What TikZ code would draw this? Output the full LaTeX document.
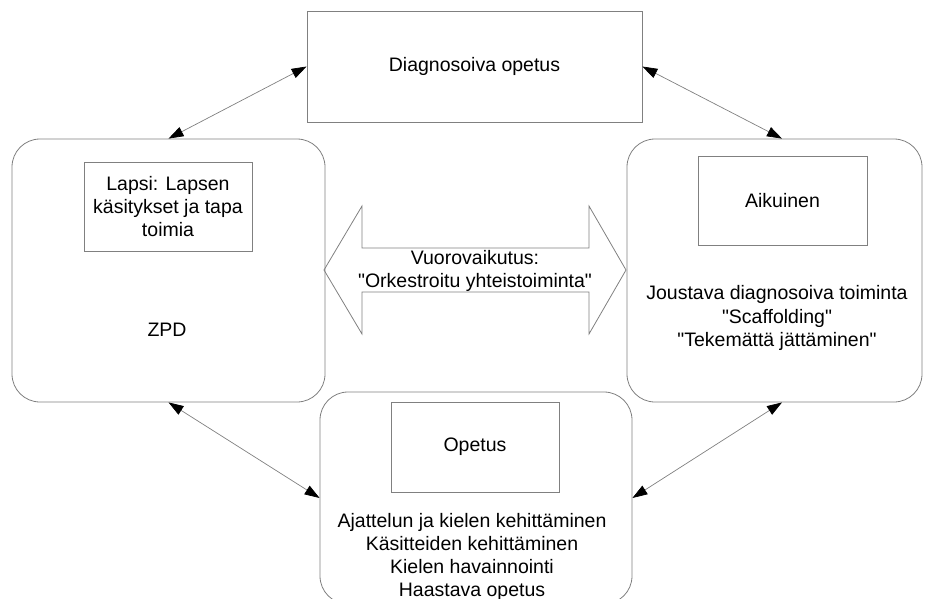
\documentclass[tikz,border=0pt]{standalone}
\usepackage{fontspec}
\setmainfont{Liberation Sans}[Ligatures=TeXOff]
\usetikzlibrary{arrows.meta}
\definecolor{edge}{RGB}{128,128,128}
\begin{document}
\begin{tikzpicture}[x=1pt,y=-1pt,
  every node/.style={font=\fontsize{19.5}{23.2}\selectfont, align=center, inner sep=0pt},
  frame/.style={draw=edge, line width=0.8pt},
  panel/.style={frame, rounded corners=28pt},
  link/.style={draw=edge, line width=0.7pt, {Triangle[length=15pt,width=10pt,color=black]}-{Triangle[length=15pt,width=10pt,color=black]}},
]
\clip (0,0) rectangle (927,598);

% top box
\node[frame, minimum width=335pt, minimum height=111pt] (diag) at (474.5,66.5) {Diagnosoiva opetus};

% three rounded panels
\node[panel, minimum width=313pt, minimum height=263pt] (lapsi) at (168.5,270.5) {};
\node[panel, minimum width=295pt, minimum height=263pt] (aik) at (774.5,270.5) {};
\node[panel, minimum width=312pt, minimum height=212pt] (opet) at (476,498) {};

% inner boxes
\node[frame, minimum width=168pt, minimum height=89pt] (lapsibox) at (168,206.5) {Lapsi: Lapsen\\käsitykset ja tapa\\toimia};
\node[frame, minimum width=169pt, minimum height=89pt] (aikbox) at (782.5,200.5) {Aikuinen};
\node[frame, minimum width=168pt, minimum height=90pt] (opetbox) at (475,447) {Opetus};

% panel texts
\node (zpd) at (167,330) {ZPD};
\node (aiktxt) at (777,318) {Joustava diagnosoiva toiminta\\"Scaffolding"\\"Tekemättä jättäminen"};
\node (opettxt) at (472,557) {Ajattelun ja kielen kehittäminen\\Käsitteiden kehittäminen\\Kielen havainnointi\\Haastava opetus};

% double-headed block arrow between the side panels
\coordinate (dl) at (324,270);
\coordinate (dr) at (626,270);
\draw[frame] (dl) -- (362,206) -- (362,248) -- (589,248) -- (589,206) -- (dr)
  -- (589,334) -- (589,292) -- (362,292) -- (362,334) -- cycle;
\node (vuoro) at (475,271) {Vuorovaikutus:\\"Orkestroitu yhteistoiminta"};

% connectors
\draw[link] (diag.west) -- (lapsi.north);
\draw[link] (diag.east) -- ([xshift=7.5pt]aik.north);
\draw[link] (lapsi.south) -- (opet.west);
\draw[link] ([xshift=7.5pt]aik.south) -- (opet.east);
\end{tikzpicture}
\end{document}
